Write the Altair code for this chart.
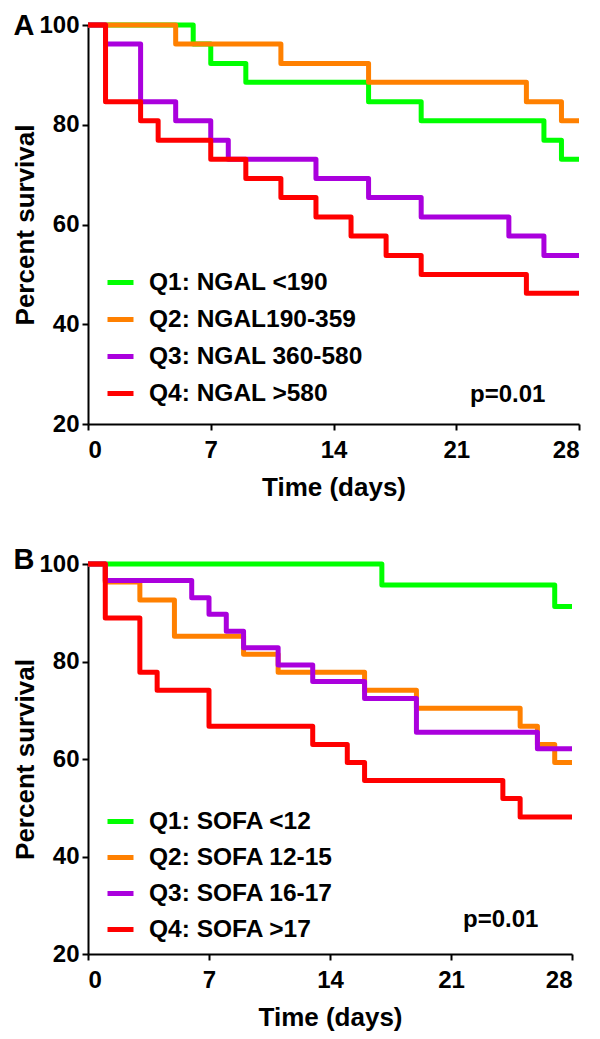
import altair as alt
import pandas as pd

FONT = "Liberation Sans"
COLORS = ["#00FF00", "#FF8000", "#AA00DD", "#FF0000"]
DAY_TICKS = [0, 7, 14, 21, 28]
PCT_TICKS = [20, 40, 60, 80, 100]

# Panel A: NGAL quartiles
a_labels = ["Q1: NGAL <190", "Q2: NGAL190-359", "Q3: NGAL 360-580", "Q4: NGAL >580"]
a_q1_t = [0, 6, 7, 9, 16, 19, 26, 27, 28]
a_q1_v = [100, 96.2, 92.3, 88.5, 84.6, 80.8, 76.9, 73.1, 73.1]
a_q2_t = [0, 5, 11, 16, 25, 27, 28]
a_q2_v = [100, 96.2, 92.3, 88.5, 84.6, 80.8, 80.8]
a_q3_t = [0, 1, 3, 5, 7, 8, 13, 16, 19, 24, 26, 28]
a_q3_v = [100, 96.2, 84.6, 80.8, 76.9, 73.1, 69.2, 65.4, 61.5, 57.7, 53.8, 53.8]
a_q4_t = [0, 1, 3, 4, 7, 9, 11, 13, 15, 17, 19, 25, 28]
a_q4_v = [100, 84.6, 80.8, 76.9, 73.1, 69.2, 65.4, 61.5, 57.7, 53.8, 50.0, 46.2, 46.2]

# Panel B: SOFA quartiles
b_labels = ["Q1: SOFA <12", "Q2: SOFA 12-15", "Q3: SOFA 16-17", "Q4: SOFA >17"]
b_q1_t = [0, 17, 27, 28]
b_q1_v = [100, 95.7, 91.3, 91.3]
b_q2_t = [0, 1, 3, 5, 9, 11, 16, 19, 25, 26, 27, 28]
b_q2_v = [100, 96.3, 92.6, 85.2, 81.5, 77.8, 74.1, 70.4, 66.7, 63.0, 59.3, 59.3]
b_q3_t = [0, 1, 6, 7, 8, 9, 11, 13, 16, 19, 26, 28]
b_q3_v = [100, 96.6, 93.1, 89.7, 86.2, 82.8, 79.3, 75.9, 72.4, 65.5, 62.1, 62.1]
b_q4_t = [0, 1, 3, 4, 7, 13, 15, 16, 24, 25, 28]
b_q4_v = [100, 88.9, 77.8, 74.1, 66.7, 63.0, 59.3, 55.6, 51.9, 48.1, 48.1]

p_text = "p=0.01"


def build_df(labels, series):
    rows = []
    for lab, (ts, vs) in zip(labels, series):
        for t, v in zip(ts, vs):
            rows.append({"group": lab, "day": t, "pct": v})
    return pd.DataFrame(rows)


def panel(df, labels, letter, w, h, row_pad, leg_y, p_pos, letter_pos):
    lines = alt.Chart(df).mark_line(
        interpolate="step-after", strokeWidth=5, strokeJoin="round"
    ).encode(
        x=alt.X("day:Q", scale=alt.Scale(domain=[0, 28], nice=False),
                axis=alt.Axis(values=DAY_TICKS, title="Time (days)",
                              labelPadding=8, titlePadding=12)),
        y=alt.Y("pct:Q", scale=alt.Scale(domain=[20, 100], nice=False),
                axis=alt.Axis(values=PCT_TICKS, title="Percent survival",
                              labelPadding=3, titlePadding=0)),
        color=alt.Color("group:N", scale=alt.Scale(domain=labels, range=COLORS),
                        legend=alt.Legend(title=None, orient="none", legendX=17, legendY=leg_y,
                                          symbolType="stroke", symbolSize=676,
                                          symbolStrokeWidth=5, labelFontSize=24.5,
                                          labelFont=FONT, labelFontWeight="bold",
                                          labelColor="black", labelOffset=13,
                                          rowPadding=row_pad, padding=0, labelLimit=400)),
    )
    ptxt = alt.Chart(pd.DataFrame({"t": [p_text]})).mark_text(
        align="left", baseline="middle", font=FONT, fontSize=24, fontWeight="bold", color="black"
    ).encode(text="t:N", x=alt.value(p_pos[0]), y=alt.value(p_pos[1]))
    ltxt = alt.Chart(pd.DataFrame({"t": [letter]})).mark_text(
        align="center", baseline="middle", font=FONT, fontSize=29, fontWeight="bold", color="black"
    ).encode(text="t:N", x=alt.value(letter_pos[0]), y=alt.value(letter_pos[1]))
    return alt.layer(lines, ptxt, ltxt).properties(width=w, height=h)


df_a = build_df(a_labels, [(a_q1_t, a_q1_v), (a_q2_t, a_q2_v), (a_q3_t, a_q3_v), (a_q4_t, a_q4_v)])
df_b = build_df(b_labels, [(b_q1_t, b_q1_v), (b_q2_t, b_q2_v), (b_q3_t, b_q3_v), (b_q4_t, b_q4_v)])

chart_a = panel(df_a, a_labels, "A", 491, 399, 10, 242, (382, 370), (-64, 1))
chart_b = panel(df_b, b_labels, "B", 484, 390, 9, 242, (375, 356), (-64, -4))

chart = alt.vconcat(chart_a, chart_b, spacing=44).resolve_scale(
    color="independent"
).resolve_legend(color="independent").properties(
    padding={"left": 4, "top": 3, "right": 0, "bottom": 0}
).configure_axis(
    labelFont=FONT, labelFontSize=24, labelFontWeight="bold", labelColor="black",
    titleFont=FONT, titleFontSize=26, titleFontWeight="bold", titleColor="black",
    domainColor="black", domainWidth=2, tickColor="black", tickWidth=2, tickSize=6,
    grid=False
).configure_view(stroke="transparent")

chart.save("out.html", embed_options={"renderer": "svg", "actions": False})
